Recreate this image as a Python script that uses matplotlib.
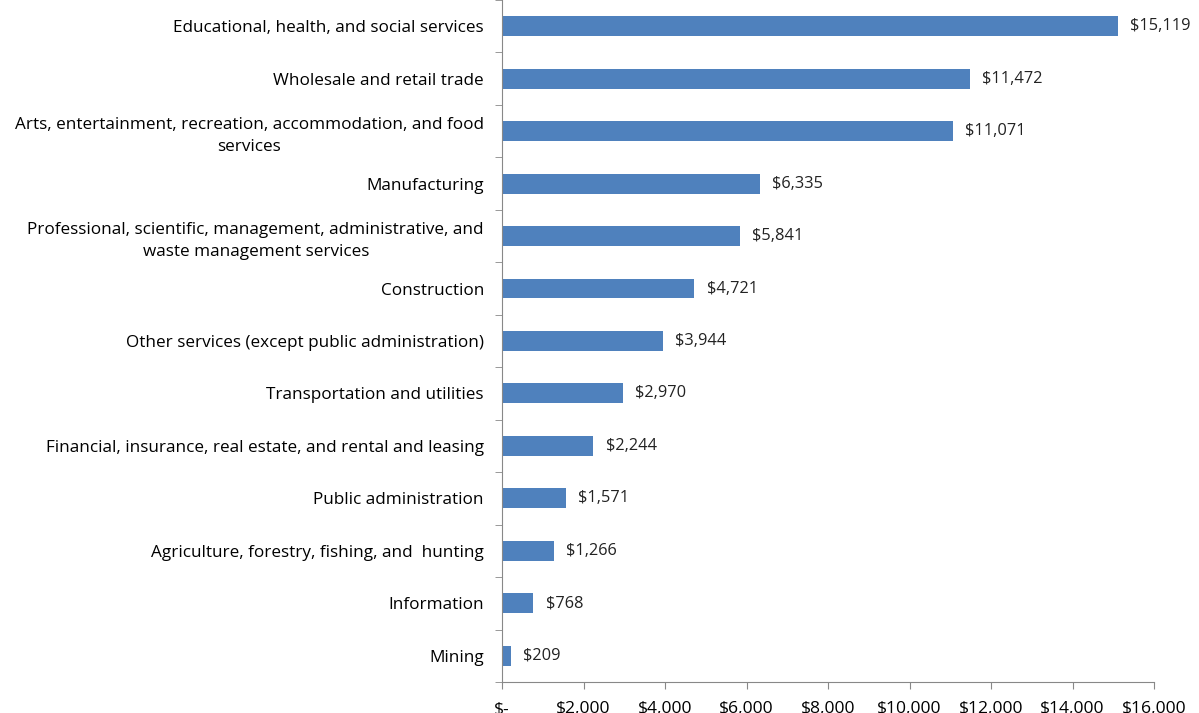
import matplotlib.pyplot as plt
from matplotlib.ticker import FuncFormatter, FixedLocator
import numpy as np

# Industry categories, top to bottom
industries = [
    "Educational, health, and social services",
    "Wholesale and retail trade",
    "Arts, entertainment, recreation, accommodation, and food\nservices",
    "Manufacturing",
    "Professional, scientific, management, administrative, and\nwaste management services",
    "Construction",
    "Other services (except public administration)",
    "Transportation and utilities",
    "Financial, insurance, real estate, and rental and leasing",
    "Public administration",
    "Agriculture, forestry, fishing, and  hunting",
    "Information",
    "Mining",
]
amounts = [15119, 11472, 11071, 6335, 5841, 4721, 3944, 2970, 2244, 1571, 1266, 768, 209]

plt.rcParams['font.family'] = ['Open Sans', 'DejaVu Sans']

fig = plt.figure(figsize=(11.99, 7.13), dpi=100)
ax = fig.add_axes([0.4187, 0.0435, 0.5438, 0.9565])

n = len(industries)
pos = np.arange(n)
ax.barh(pos, amounts, height=0.38, color='#4F81BD', zorder=2)

for y, v in zip(pos, amounts):
    ax.text(v + 300, y, "${:,}".format(v), va='center', ha='left', fontsize=11.8, color='#222222')

ax.set_ylim(n - 0.5, -0.5)
ax.set_xlim(0, 16000)
ax.set_yticks(pos)
ax.set_yticklabels(industries, fontsize=12.3, ha='right', multialignment='center', linespacing=1.5)
ax.yaxis.set_minor_locator(FixedLocator(np.arange(-0.5, n, 1.0)))
ax.tick_params(axis='y', which='major', length=0, pad=13)
ax.tick_params(axis='y', which='minor', length=5, direction='out', color='#888888')

ax.set_xticks(np.arange(0, 16001, 2000))
ax.xaxis.set_major_formatter(FuncFormatter(lambda v, p: "$-" if v == 0 else "${:,.0f}".format(v)))
ax.tick_params(axis='x', length=5, direction='out', color='#888888', labelsize=12.6, pad=9)

for s in ['top', 'right']:
    ax.spines[s].set_visible(False)
for s in ['left', 'bottom']:
    ax.spines[s].set_color('#888888')
    ax.spines[s].set_linewidth(0.8)

fig.savefig("out.png", dpi=100)
